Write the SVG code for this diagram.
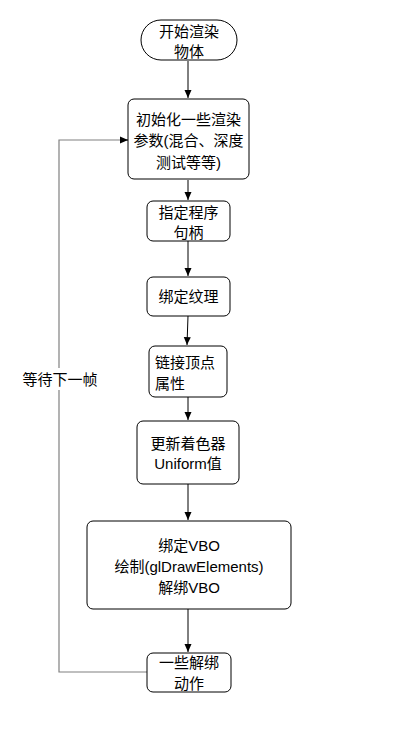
<svg xmlns="http://www.w3.org/2000/svg" width="409" height="730" viewBox="0 0 409 730">
<style>
.n{fill:#fff;stroke:#000;stroke-width:1}
.t{font-family:"Liberation Sans","Noto Sans CJK SC",sans-serif;font-size:15px;fill:#000;text-anchor:middle;dominant-baseline:central}
.c{fill:none;stroke:#000;stroke-width:1}
.g{fill:none;stroke:#808080;stroke-width:1.2}
</style>
<defs>
<marker id="a" markerWidth="10" markerHeight="10" refX="9" refY="5" orient="auto" markerUnits="userSpaceOnUse">
<path d="M1,1.5 L9,5 L1,8.5 Z" fill="#000"/>
</marker>
</defs>
<rect width="409" height="730" fill="#fff"/>
<g id="connectors">
<line class="c" x1="188" y1="61" x2="188" y2="98" marker-end="url(#a)"/>
<line class="c" x1="188" y1="180" x2="188" y2="200" marker-end="url(#a)"/>
<line class="c" x1="188" y1="241" x2="188" y2="276" marker-end="url(#a)"/>
<line class="c" x1="188" y1="316" x2="187" y2="345" marker-end="url(#a)"/>
<line class="c" x1="188" y1="397" x2="188" y2="420" marker-end="url(#a)"/>
<line class="c" x1="188" y1="484" x2="188" y2="520" marker-end="url(#a)"/>
<line class="c" x1="188" y1="609" x2="188" y2="652" marker-end="url(#a)"/>
<polyline class="g" points="147,672 59,672 59,140 126,140"/>
<line class="c" x1="120" y1="140" x2="128" y2="140" marker-end="url(#a)"/>
<rect x="20" y="368" width="80" height="22" fill="#fff"/>
<text class="t" x="60" y="379">等待下一帧</text>
</g>
<g id="start">
<rect class="n" x="141" y="20" width="96" height="40" rx="20" ry="20"/>
<text class="t" x="189" y="31">开始渲染</text>
<text class="t" x="189" y="51">物体</text>
</g>
<g id="init">
<rect class="n" x="128" y="99" width="121" height="80" rx="6"/>
<text class="t" x="188.5" y="119">初始化一些渲染</text>
<text class="t" x="188.5" y="140.5">参数(混合、深度</text>
<text class="t" x="188.5" y="162">测试等等)</text>
</g>
<g id="program">
<rect class="n" x="147" y="201" width="83" height="40" rx="6"/>
<text class="t" x="188.5" y="212">指定程序</text>
<text class="t" x="188.5" y="232">句柄</text>
</g>
<g id="texture">
<rect class="n" x="147" y="277" width="83" height="39" rx="6"/>
<text class="t" x="188.5" y="296.5">绑定纹理</text>
</g>
<g id="attrib">
<rect class="n" x="149" y="346" width="78" height="51" rx="6"/>
<text class="t" x="155" y="362" style="text-anchor:start">链接顶点</text>
<text class="t" x="155" y="383" style="text-anchor:start">属性</text>
</g>
<g id="uniform">
<rect class="n" x="137" y="421" width="102" height="63" rx="6"/>
<text class="t" x="188" y="443">更新着色器</text>
<text class="t" x="188" y="463">Uniform值</text>
</g>
<g id="draw">
<rect class="n" x="87" y="521" width="204" height="88" rx="6"/>
<text class="t" x="189" y="545">绑定VBO</text>
<text class="t" x="189" y="566">绘制(glDrawElements)</text>
<text class="t" x="189" y="587">解绑VBO</text>
</g>
<g id="unbind">
<rect class="n" x="147" y="653" width="84" height="39" rx="6"/>
<text class="t" x="189" y="662">一些解绑</text>
<text class="t" x="189" y="683">动作</text>
</g>
</svg>
